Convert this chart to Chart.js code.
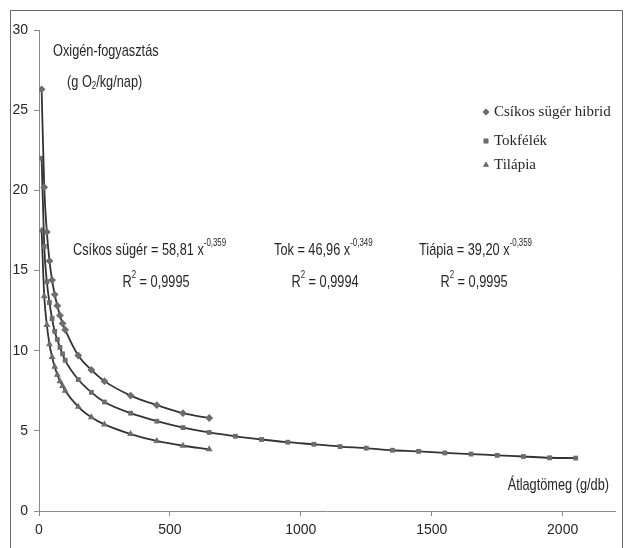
<!DOCTYPE html>
<html>
<head>
<meta charset="utf-8">
<script src="https://cdn.jsdelivr.net/npm/chart.js@4.4.1/dist/chart.umd.min.js"></script>
<style>
  html, body { margin: 0; padding: 0; background: #fff; }
  #wrap { position: relative; width: 628px; height: 548px; }
</style>
</head>
<body>
<div id="wrap"><canvas id="c" width="628" height="548"></canvas></div>
<script>
// Oxygen consumption vs. average body weight, three fish groups.
const weightShort = [10, 20, 30, 40, 50, 60, 70, 80, 90, 100, 150, 200, 250, 350, 450, 550, 650];
const weightTok = [10, 20, 30, 40, 50, 60, 70, 80, 90, 100, 150, 200, 250, 350, 450, 550, 650,
  750, 850, 950, 1050, 1150, 1250, 1350, 1450, 1550, 1650, 1750, 1850, 1950, 2050];

const csikos = [26.3, 20.2, 17.4, 15.6, 14.4, 13.5, 12.8, 12.2, 11.7, 11.3, 9.7, 8.8, 8.1, 7.2, 6.6, 6.1, 5.8];
const tok = [22.0, 16.5, 14.3, 13.0, 12.0, 11.2, 10.7, 10.2, 9.8, 9.4, 8.2, 7.4, 6.8, 6.1, 5.6, 5.2, 4.9,
  4.66, 4.46, 4.29, 4.16, 4.02, 3.92, 3.79, 3.72, 3.62, 3.55, 3.47, 3.40, 3.32, 3.30];
const tilapia = [17.5, 13.4, 11.6, 10.4, 9.6, 9.0, 8.5, 8.1, 7.8, 7.5, 6.5, 5.85, 5.4, 4.8, 4.37, 4.07, 3.85];

const seriesNames = ['Csíkos sügér hibrid', 'Tokfélék', 'Tilápia'];
const markerStyles = ['rectRot', 'rect', 'triangle'];
const xTicks = [0, 500, 1000, 1500, 2000];

const SANS = '"Liberation Sans", Arial, sans-serif';
const SERIF = '"Liberation Serif", "DejaVu Serif", serif';
const LINE = '#333';
const MARK = '#6c6c6c';
const AXIS = '#8a8a8a';
const TEXT = '#262626';
const NARROW = 0.75; // the original uses a condensed sans face

const pts = (xs, ys) => xs.map((x, i) => ({ x, y: ys[i] }));

function series(label, data, style) {
  return {
    label,
    data,
    borderColor: LINE,
    borderWidth: 1.8,
    backgroundColor: MARK,
    pointBackgroundColor: MARK,
    pointBorderColor: MARK,
    pointBorderWidth: 0,
    pointStyle: style,
    pointRadius: style === 'rect' ? 3.4 : style === 'triangle' ? 4 : 3.9,
    cubicInterpolationMode: 'monotone',
  };
}

// runs of text, with optional superscript / subscript pieces, squeezed horizontally
function drawRuns(ctx, runs, x, y, size, align) {
  const fontOf = r => `${r.sup || r.sub ? size * 0.62 : size}px ${SANS}`;
  const widths = runs.map(r => { ctx.font = fontOf(r); return ctx.measureText(r.t).width; });
  const total = widths.reduce((a, b) => a + b, 0) * NARROW;
  let cx = align === 'center' ? x - total / 2 : align === 'right' ? x - total : x;
  runs.forEach((r, i) => {
    ctx.save();
    ctx.font = fontOf(r);
    const dy = r.sup ? -size * 0.42 : r.sub ? size * 0.22 : 0;
    ctx.translate(cx, y + dy);
    ctx.scale(NARROW, 1);
    ctx.fillText(r.t, 0, 0);
    ctx.restore();
    cx += widths[i] * NARROW;
  });
}

const annotations = {
  id: 'annotations',
  afterDraw(chart) {
    const ctx = chart.ctx;
    ctx.save();
    ctx.fillStyle = TEXT;
    ctx.textBaseline = 'middle';
    drawRuns(ctx, [{ t: 'Oxigén-fogyasztás' }], 53, 51, 17, 'left');
    drawRuns(ctx, [{ t: '(g O' }, { t: '2', sub: true }, { t: '/kg/nap)' }], 67, 82, 17, 'left');

    drawRuns(ctx, [{ t: 'Csíkos sügér = 58,81 x' }, { t: '-0,359', sup: true }], 73, 250, 17, 'left');
    drawRuns(ctx, [{ t: 'R' }, { t: '2', sup: true }, { t: ' = 0,9995' }], 156, 282, 17, 'center');
    drawRuns(ctx, [{ t: 'Tok = 46,96 x' }, { t: '-0,349', sup: true }], 274, 250, 17, 'left');
    drawRuns(ctx, [{ t: 'R' }, { t: '2', sup: true }, { t: ' = 0,9994' }], 325, 282, 17, 'center');
    drawRuns(ctx, [{ t: 'Tiápia = 39,20 x' }, { t: '-0,359', sup: true }], 419, 250, 17, 'left');
    drawRuns(ctx, [{ t: 'R' }, { t: '2', sup: true }, { t: ' = 0,9995' }], 474, 282, 17, 'center');

    drawRuns(ctx, [{ t: 'Átlagtömeg (g/db)' }], 609, 485, 17, 'right');

    // legend, serif like the original
    const legendY = [112, 141, 165];
    ctx.font = `15px ${SERIF}`;
    seriesNames.forEach((name, i) => {
      Chart.helpers.drawPoint(ctx, { pointStyle: markerStyles[i], radius: 3.2, borderWidth: 0 }, 486, legendY[i]);
      ctx.fillStyle = MARK;
      ctx.fill();
      ctx.fillStyle = TEXT;
      ctx.fillText(name, 494, legendY[i]);
    });

    // outer frame
    ctx.strokeStyle = '#666';
    ctx.lineWidth = 1;
    ctx.beginPath();
    ctx.moveTo(10.5, 560);
    ctx.lineTo(10.5, 10.5);
    ctx.lineTo(622.5, 10.5);
    ctx.lineTo(622.5, 560);
    ctx.stroke();
    ctx.restore();
  },
};

new Chart(document.getElementById('c').getContext('2d'), {
  type: 'line',
  data: {
    datasets: [
      series(seriesNames[0], pts(weightShort, csikos), markerStyles[0]),
      series(seriesNames[1], pts(weightTok, tok), markerStyles[1]),
      series(seriesNames[2], pts(weightShort, tilapia), markerStyles[2]),
    ],
  },
  options: {
    responsive: false,
    animation: false,
    layout: { padding: { left: 0, top: 30, right: 13, bottom: 0 } },
    plugins: { legend: { display: false }, tooltip: { enabled: false } },
    scales: {
      x: {
        type: 'linear',
        min: 0,
        max: 2200,
        afterBuildTicks: (s) => { s.ticks = xTicks.map(v => ({ value: v })); },
        afterFit: (s) => { s.height = 37; },
        grid: { drawOnChartArea: false, drawTicks: true, tickLength: 5, color: AXIS },
        border: { color: AXIS, width: 1 },
        ticks: {
          color: TEXT, padding: 6, maxRotation: 0,
          font: { family: SANS, size: 14 },
          callback: (v) => String(v),
        },
      },
      y: {
        min: 0,
        max: 30,
        afterFit: (s) => { s.width = 39; },
        grid: { drawOnChartArea: false, drawTicks: true, tickLength: 5, color: AXIS },
        border: { color: AXIS, width: 1 },
        ticks: { stepSize: 5, color: TEXT, padding: 6, font: { family: SANS, size: 14 } },
      },
    },
  },
  plugins: [annotations],
});
</script>
</body>
</html>
